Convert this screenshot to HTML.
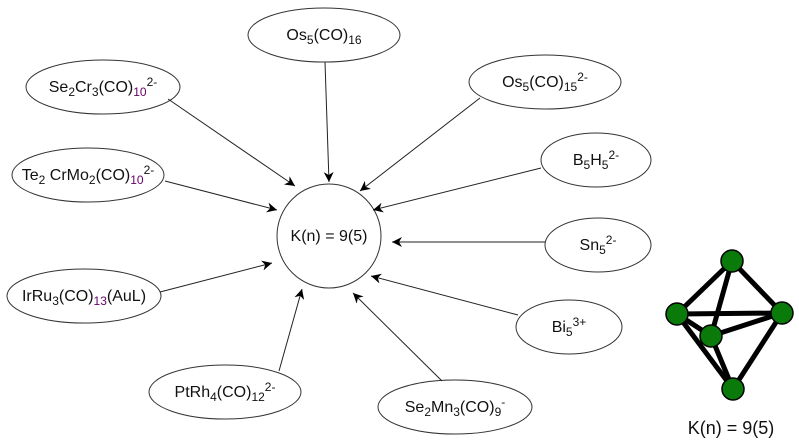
<!DOCTYPE html>
<html><head><style>body{margin:0;background:#fff}svg{display:block}text{font-family:"Liberation Sans",Arial,sans-serif;font-size:16px;fill:#111}</style></head>
<body>
<svg width="799" height="446" viewBox="0 0 799 446" xmlns="http://www.w3.org/2000/svg">
<defs><marker id="a" viewBox="0 0 10 10" refX="10" refY="5" markerWidth="12" markerHeight="10" markerUnits="userSpaceOnUse" orient="auto"><path d="M0,0 L10,5 L0,10 L3,5 z" fill="#000"/></marker></defs>
<g fill="none" stroke="#333" stroke-width="1">
<circle cx="329" cy="236" r="52"/>
<ellipse cx="324" cy="35" rx="76" ry="27"/>
<ellipse cx="103" cy="87" rx="77" ry="27"/>
<ellipse cx="545" cy="82" rx="76" ry="27"/>
<ellipse cx="88" cy="175" rx="76" ry="27"/>
<ellipse cx="596" cy="160" rx="55" ry="27"/>
<ellipse cx="598" cy="245" rx="53" ry="27"/>
<ellipse cx="569" cy="327" rx="53" ry="27"/>
<ellipse cx="455" cy="407" rx="77" ry="27"/>
<ellipse cx="225" cy="392" rx="76" ry="27"/>
<ellipse cx="84" cy="296" rx="77" ry="27"/>
</g>
<g stroke="#222" stroke-width="1" marker-end="url(#a)">
<line x1="325" y1="62" x2="329" y2="182"/>
<line x1="168" y1="99" x2="295" y2="186"/>
<line x1="480" y1="98" x2="360" y2="191"/>
<line x1="165" y1="181" x2="277" y2="210"/>
<line x1="541" y1="168" x2="373" y2="210"/>
<line x1="545" y1="242" x2="392" y2="242"/>
<line x1="518" y1="315" x2="371" y2="276"/>
<line x1="442" y1="381" x2="353" y2="293"/>
<line x1="279" y1="371" x2="302" y2="289"/>
<line x1="160" y1="292" x2="272" y2="263"/>
</g>
<text x="329" y="241" text-anchor="middle">K(n) = 9(5)</text>
<text x="324" y="40" text-anchor="middle">Os<tspan font-size="12" dy="4">5</tspan><tspan dy="-4">(CO)</tspan><tspan font-size="12" dy="4">16</tspan></text>
<text x="103" y="92" text-anchor="middle">Se<tspan font-size="12" dy="4">2</tspan><tspan dy="-4">Cr</tspan><tspan font-size="12" dy="4">3</tspan><tspan dy="-4">(CO)</tspan><tspan font-size="12" dy="4" fill="#606">10</tspan><tspan font-size="12" dy="-10">2-</tspan></text>
<text x="545" y="87" text-anchor="middle">Os<tspan font-size="12" dy="4">5</tspan><tspan dy="-4">(CO)</tspan><tspan font-size="12" dy="4">15</tspan><tspan font-size="12" dy="-10">2-</tspan></text>
<text x="88" y="180" text-anchor="middle">Te<tspan font-size="12" dy="4">2</tspan><tspan dy="-4"> CrMo</tspan><tspan font-size="12" dy="4">2</tspan><tspan dy="-4">(CO)</tspan><tspan font-size="12" dy="4" fill="#606">10</tspan><tspan font-size="12" dy="-10">2-</tspan></text>
<text x="596" y="165" text-anchor="middle">B<tspan font-size="12" dy="4">5</tspan><tspan dy="-4">H</tspan><tspan font-size="12" dy="4">5</tspan><tspan font-size="12" dy="-10">2-</tspan></text>
<text x="598" y="250" text-anchor="middle">Sn<tspan font-size="12" dy="4">5</tspan><tspan font-size="12" dy="-10">2-</tspan></text>
<text x="569" y="332" text-anchor="middle">Bi<tspan font-size="12" dy="4">5</tspan><tspan font-size="12" dy="-10">3+</tspan></text>
<text x="455" y="412" text-anchor="middle">Se<tspan font-size="12" dy="4">2</tspan><tspan dy="-4">Mn</tspan><tspan font-size="12" dy="4">3</tspan><tspan dy="-4">(CO)</tspan><tspan font-size="12" dy="4">9</tspan><tspan font-size="12" dy="-10">-</tspan></text>
<text x="225" y="397" text-anchor="middle">PtRh<tspan font-size="12" dy="4">4</tspan><tspan dy="-4">(CO)</tspan><tspan font-size="12" dy="4">12</tspan><tspan font-size="12" dy="-10">2-</tspan></text>
<text x="84" y="301" text-anchor="middle">IrRu<tspan font-size="12" dy="4">3</tspan><tspan dy="-4">(CO)</tspan><tspan font-size="12" dy="4" fill="#606">13</tspan><tspan dy="-4">(AuL)</tspan></text>
<g stroke="#000" stroke-width="5">
<line x1="732" y1="261" x2="677" y2="314"/><line x1="732" y1="261" x2="782" y2="313"/><line x1="732" y1="261" x2="711" y2="336"/>
<line x1="677" y1="314" x2="782" y2="313"/><line x1="677" y1="314" x2="711" y2="336"/><line x1="711" y1="336" x2="782" y2="313"/>
<line x1="677" y1="314" x2="733" y2="389"/><line x1="782" y1="313" x2="733" y2="389"/><line x1="711" y1="336" x2="733" y2="389"/>
</g>
<g fill="#0a7a0a" stroke="#000" stroke-width="1.5">
<circle cx="732" cy="261" r="11"/><circle cx="677" cy="314" r="11"/><circle cx="782" cy="313" r="11"/><circle cx="711" cy="336" r="11"/><circle cx="733" cy="389" r="11"/>
</g>
<text x="731" y="434" text-anchor="middle" style="font-size:18px">K(n) = 9(5)</text>
</svg>
</body></html>
